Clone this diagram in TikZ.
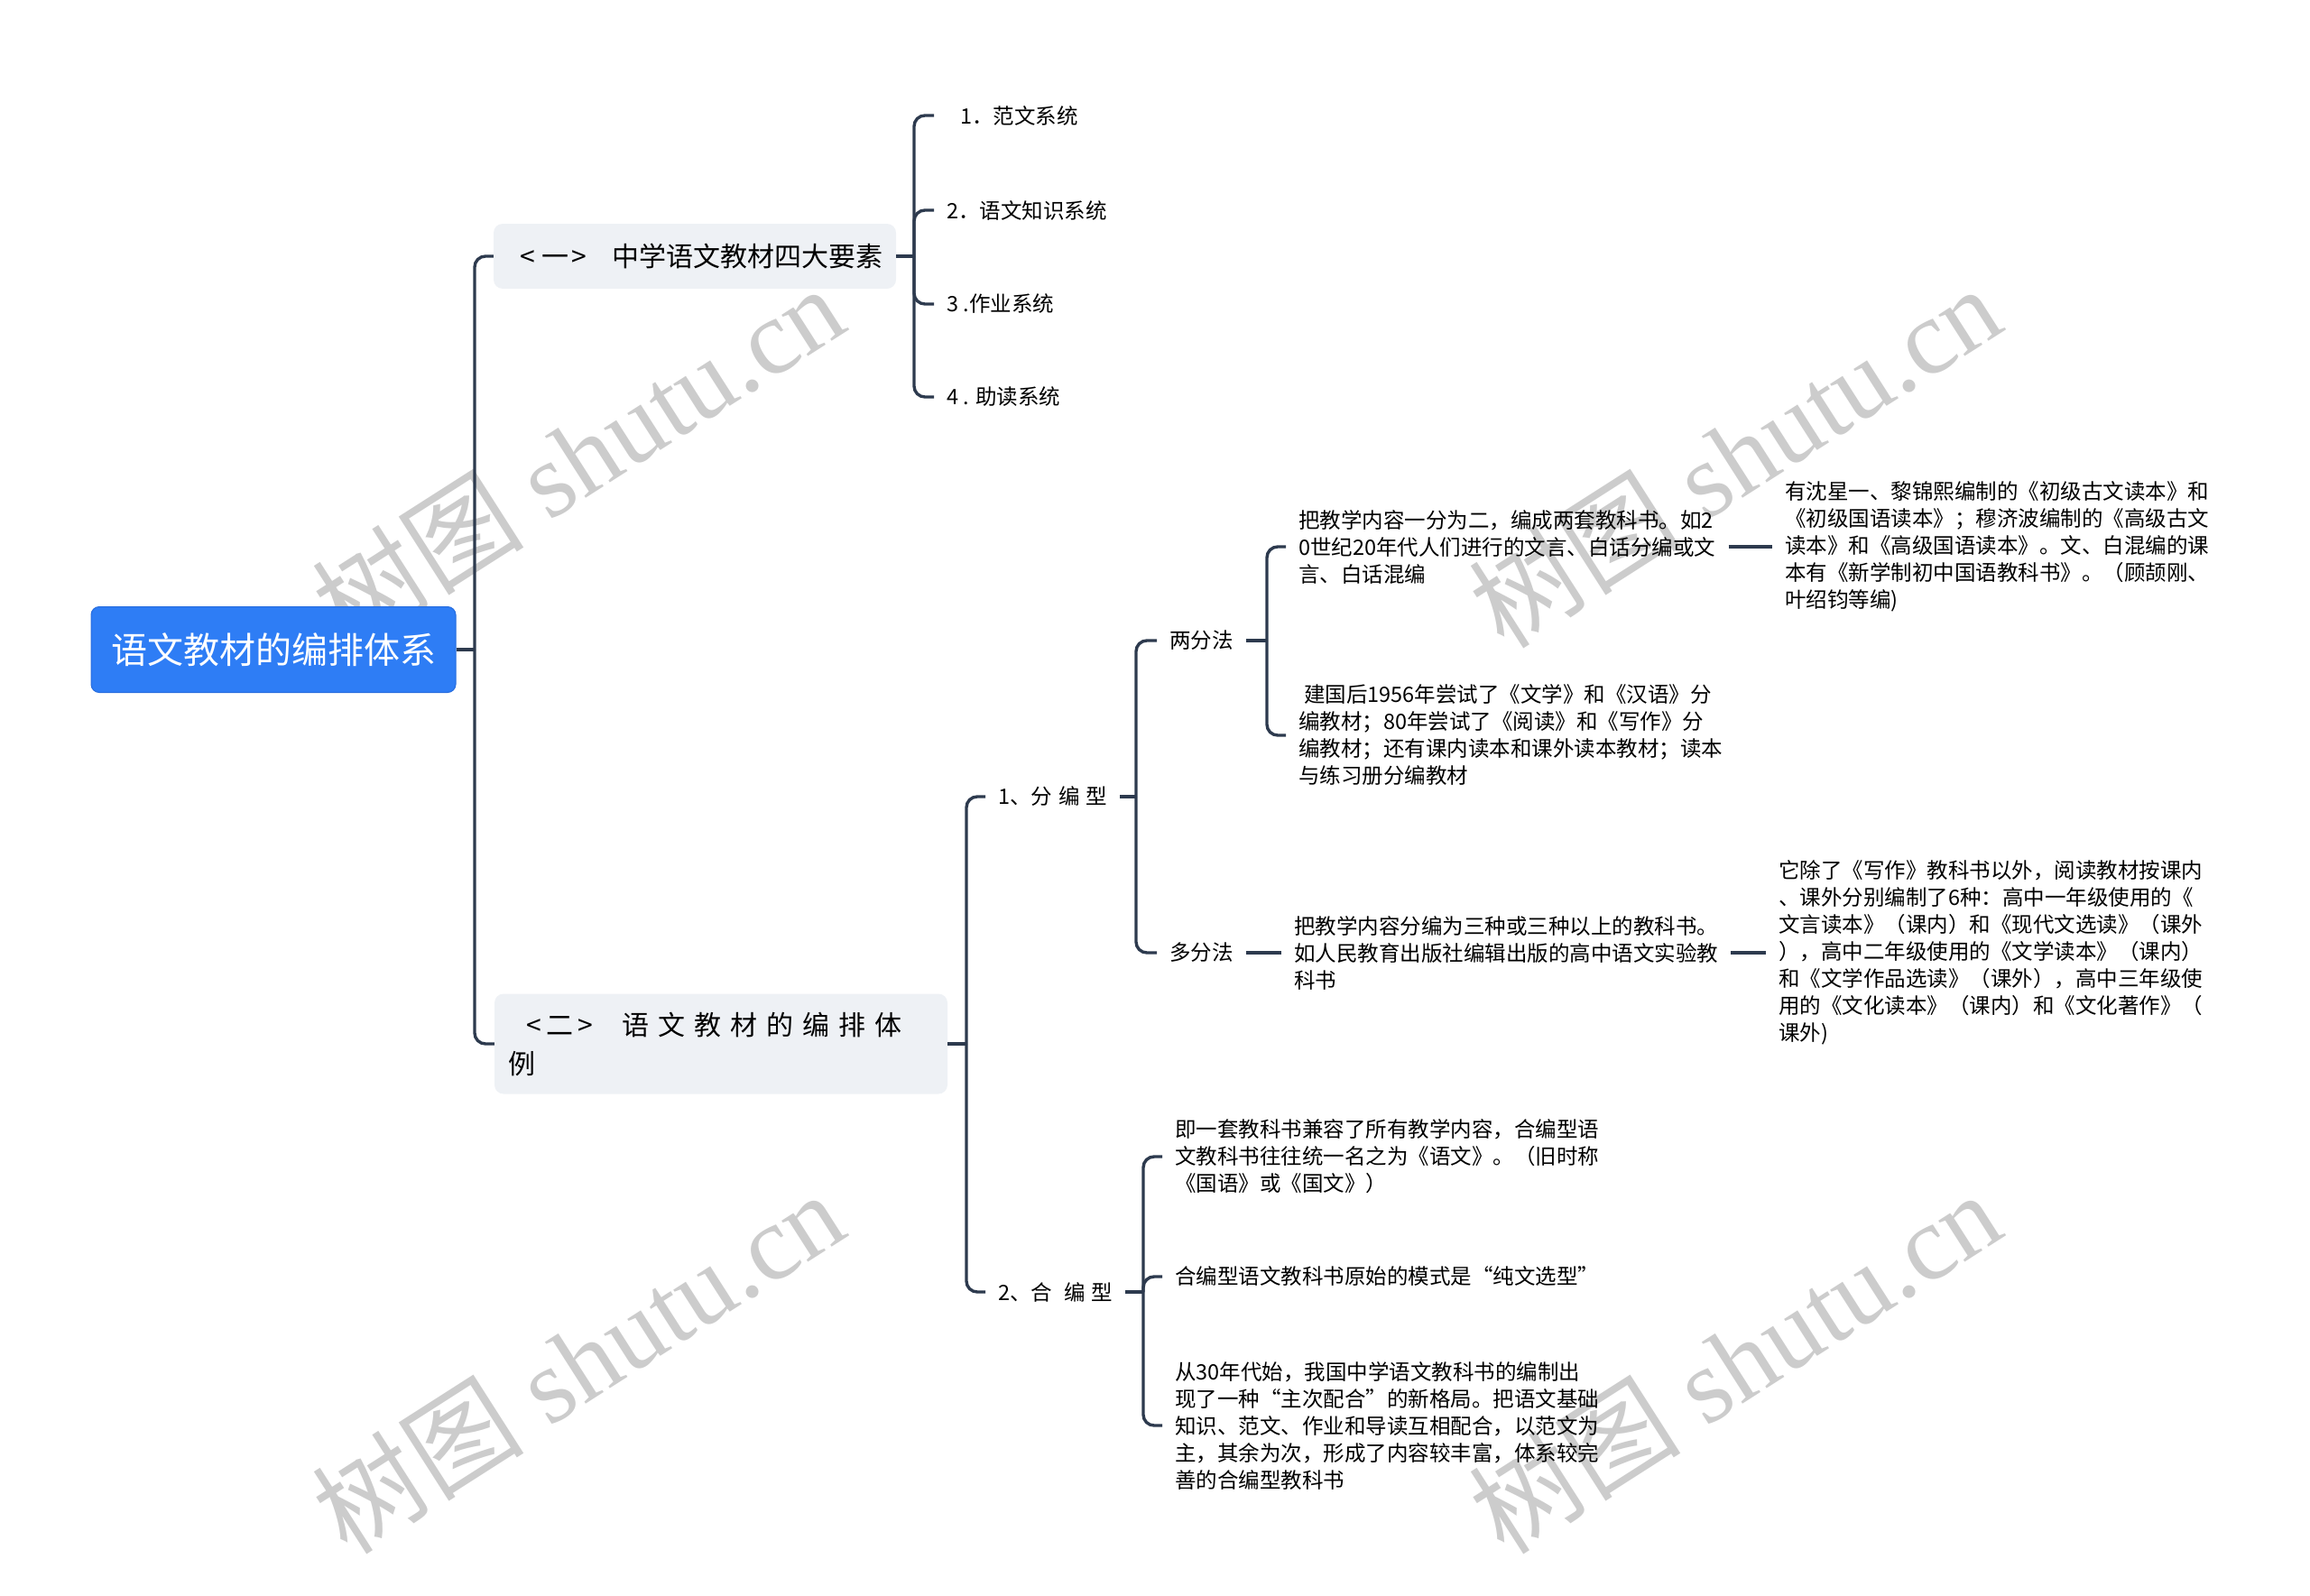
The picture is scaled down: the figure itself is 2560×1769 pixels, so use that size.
\documentclass[tikz,border=0pt]{standalone}
\usepackage{fontspec}
\setmainfont{Noto Sans CJK SC}
\newfontfamily\wmfont{Liberation Serif}
\newfontfamily\wmcjk{Noto Sans CJK SC}
\definecolor{rootblue}{RGB}{46,125,245}
\definecolor{rootedge}{RGB}{38,108,222}
\definecolor{topicgray}{RGB}{238,241,245}
\definecolor{linecol}{RGB}{45,58,78}
\begin{document}
\begin{tikzpicture}[x=1pt, y=-1pt,
root node/.style={rectangle,rounded corners=9pt,fill=rootblue,draw=rootedge,line width=1pt,text=white,font=\fontsize{40}{48}\selectfont,minimum width=404pt,minimum height=95pt,inner sep=0pt},
topic node/.style={rectangle,rounded corners=10pt,fill=topicgray,align=left,inner ysep=0pt},
leaf node/.style={anchor=west,align=left,inner xsep=14pt,inner ysep=2pt,font=\fontsize{23.5}{30}\selectfont},
branch/.style={draw=linecol,line width=3.4pt,rounded corners=12pt},
watermark/.style={rotate=32.6,text=black!20,font=\fontsize{118}{118}\selectfont\wmfont}]
\useasboundingbox (0,0) rectangle (2560,1769);
% watermarks
\foreach \wx/\wy in {640/505,1922/505,640/1509,1922/1509}
  \node[watermark] (wm\wx\wy) at (\wx,\wy) {{\wmcjk 树图} shutu.cn};
\begin{scope}
\node[root node] (root) at (303,720) {语文教材的编排体系};
\node[topic node,text width=430pt,inner xsep=8pt,minimum height=72pt,font=\fontsize{30}{43}\selectfont] (n1) at (770,284) {\mbox{\hspace*{21pt}<\hspace{8pt}一\hspace{3pt}>\hspace{28pt}中学语文教材四大要素}};
\node[topic node,text width=472pt,inner xsep=15pt,minimum height=111pt,font=\fontsize{30}{43}\selectfont] (n2) at (799,1157) {\mbox{\hspace*{20pt}<\hspace{6pt}二\hspace{5pt}>\hspace{32pt}语\hspace{10pt}文\hspace{10pt}教\hspace{10pt}材\hspace{10pt}的\hspace{10pt}编\hspace{10pt}排\hspace{10pt}体}\\例};
\end{scope}
\begin{scope}[every node/.style={leaf node}]
\node (s1) at (1035,128) {\hspace*{15pt}1．范文系统};
\node (s2) at (1035,233) {2．语文知识系统};
\node (s3) at (1035,337) {3 .作业系统};
\node (s4) at (1035,440) {4 . 助读系统};
\node (c1) at (1092,883) {1、分\hspace{7pt}编\hspace{7pt}型};
\node (c2) at (1092,1432) {2、合\hspace{13pt}编\hspace{7pt}型};
\node (d1) at (1282,710) {两分法};
\node (d2) at (1282,1056) {多分法};
\node (e1) at (1425,606) {把教学内容一分为二，编成两套教科书。如2\\0世纪20年代人们进行的文言、白话分编或文\\言、白话混编};
\node (e2) at (1425,815) {\hspace*{6pt}建国后1956年尝试了《文学》和《汉语》分\\编教材；80年尝试了《阅读》和《写作》分\\编教材；还有课内读本和课外读本教材；读本\\与练习册分编教材};
\node (e3) at (1964,606) {有沈星一、黎锦熙编制的《初级古文读本》和\\《初级国语读本》；穆济波编制的《高级古文\\读本》和《高级国语读本》。文、白混编的课\\本有《新学制初中国语教科书》。（顾颉刚、\\叶绍钧等编)};
\node (e4) at (1420,1056) {把教学内容分编为三种或三种以上的教科书。\\如人民教育出版社编辑出版的高中语文实验教\\科书};
\node (e5) at (1957,1056) {它除了《写作》教科书以外，阅读教材按课内\\、课外分别编制了6种：高中一年级使用的《\\文言读本》（课内）和《现代文选读》（课外\\），高中二年级使用的《文学读本》（课内）\\和《文学作品选读》（课外），高中三年级使\\用的《文化读本》（课内）和《文化著作》（\\课外)};
\node (f1) at (1288,1282) {即一套教科书兼容了所有教学内容，合编型语\\文教科书往往统一名之为《语文》。（旧时称\\《国语》或《国文》）};
\node (f2) at (1288,1415) {合编型语文教科书原始的模式是“纯文选型”};
\node (f3) at (1288,1580) {从30年代始，我国中学语文教科书的编制出\\现了一种“主次配合”的新格局。把语文基础\\知识、范文、作业和导读互相配合，以范文为\\主，其余为次，形成了内容较丰富，体系较完\\善的合编型教科书};
\end{scope}
\coordinate (j0) at (526,720);
\coordinate (j1) at (1013,284);
\coordinate (j2) at (1071,1157);
\coordinate (j3) at (1259,883);
\coordinate (j4) at (1404,710);
\coordinate (j5) at (1267,1432);
\begin{scope}[branch]
\draw (root.east) -- (j0);
\draw (j0) |- (n1.west);
\draw (j0) |- (n2.west);
\draw (n1.east) -- (j1);
\foreach \s in {s1,s2,s3,s4}
  \draw (j1) |- (\s.west);
\draw (n2.east) -- (j2);
\draw (j2) |- (c1.west);
\draw (j2) |- (c2.west);
\draw (c1.east) -- (j3);
\draw (j3) |- (d1.west);
\draw (j3) |- (d2.west);
\draw (d1.east) -- (j4);
\draw (j4) |- (e1.west);
\draw (j4) |- (e2.west);
\draw (e1.east) -- (e3.west);
\draw (d2.east) -- (e4.west);
\draw (e4.east) -- (e5.west);
\draw (c2.east) -- (j5);
\foreach \f in {f1,f2,f3}
  \draw (j5) |- (\f.west);
\end{scope}
\end{tikzpicture}
\end{document}
